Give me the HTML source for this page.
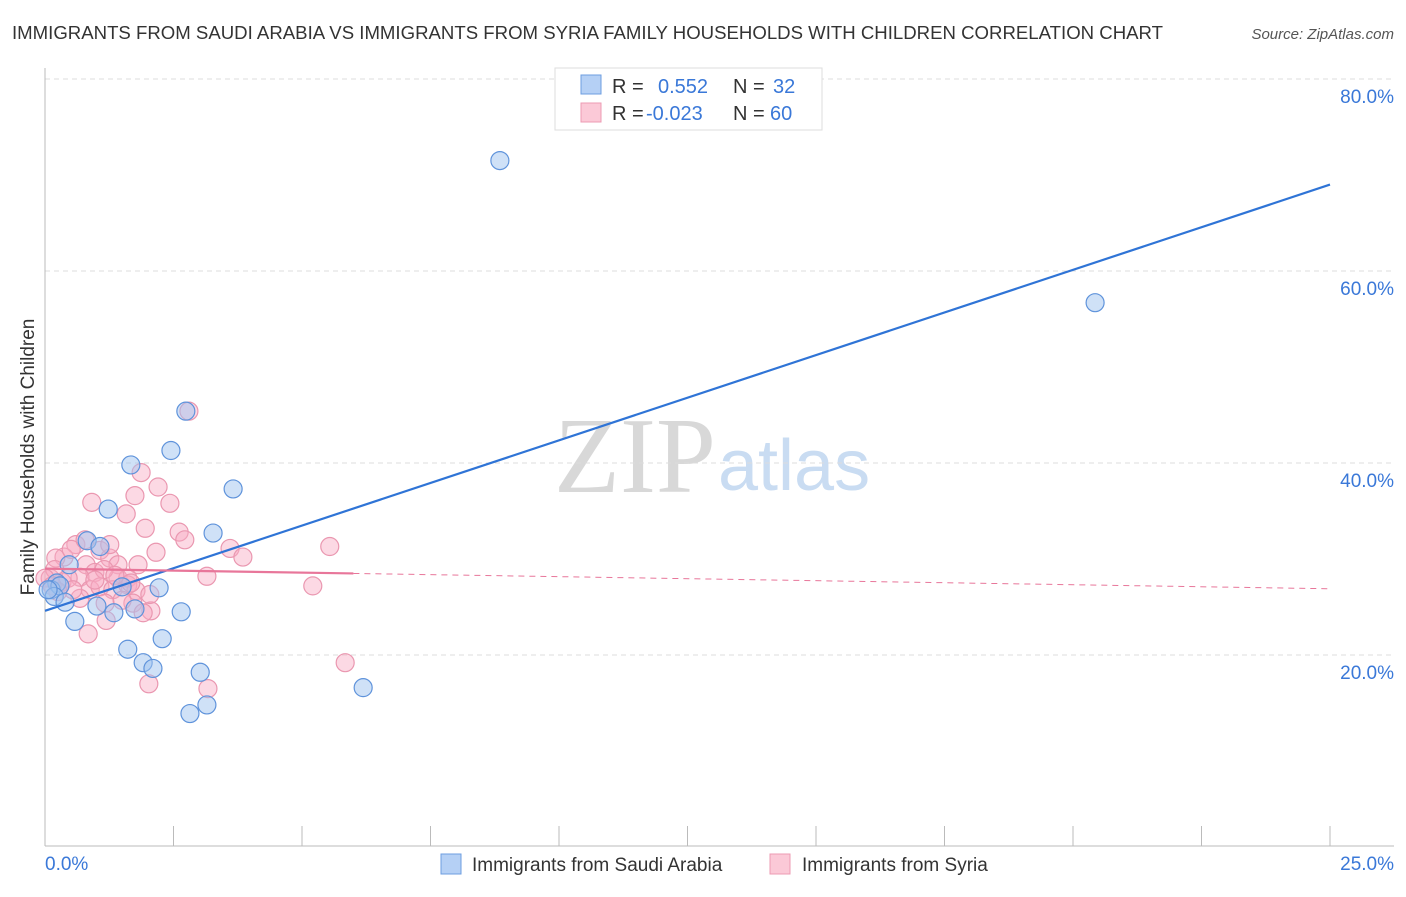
<!DOCTYPE html>
<html><head><meta charset="utf-8"><style>
body{margin:0;background:#fff;font-family:"Liberation Sans",sans-serif}
</style></head><body>
<svg id="c" width="1406" height="892" xmlns="http://www.w3.org/2000/svg">
<text x="12" y="39" font-size="18" fill="#333" textLength="1151" lengthAdjust="spacingAndGlyphs">IMMIGRANTS FROM SAUDI ARABIA VS IMMIGRANTS FROM SYRIA FAMILY HOUSEHOLDS WITH CHILDREN CORRELATION CHART</text>
<text x="1394" y="39" font-size="15" fill="#555" font-style="italic" text-anchor="end">Source: ZipAtlas.com</text>
<text x="716" y="492" font-size="108" fill="#d8d8d8" font-family="Liberation Serif,serif" text-anchor="end">ZIP</text>
<text x="718" y="490" font-size="72" fill="#c9dcf2">atlas</text>
<text transform="translate(34,457) rotate(-90)" font-size="19" fill="#333" text-anchor="middle">Family Households with Children</text>
<g id="grid"></g><g id="pts"></g><g id="lines"></g>
<g>
<rect x="555" y="68" width="267" height="62" fill="#fff" stroke="#ddd"/>
<rect x="581" y="75" width="20" height="19" fill="#b5d0f5" stroke="#6d9ee0"/>
<rect x="581" y="103" width="20" height="19" fill="#fbc9d7" stroke="#ec9bb3"/>
<text x="612" y="93" font-size="20" fill="#333">R = <tspan fill="#3a78d8" x="658">0.552</tspan><tspan x="733" fill="#333">N = </tspan><tspan fill="#3a78d8" x="773">32</tspan></text>
<text x="612" y="120" font-size="20" fill="#333">R = <tspan fill="#3a78d8" x="646">-0.023</tspan><tspan x="733" fill="#333">N = </tspan><tspan fill="#3a78d8" x="770">60</tspan></text>
</g>
<g>
<rect x="441" y="854" width="20" height="20" fill="#b5d0f5" stroke="#6d9ee0"/>
<text x="472" y="871" font-size="19" fill="#333">Immigrants from Saudi Arabia</text>
<rect x="770" y="854" width="20" height="20" fill="#fbc9d7" stroke="#ec9bb3"/>
<text x="802" y="871" font-size="19" fill="#333">Immigrants from Syria</text>
</g>
<text x="45" y="870" font-size="19" fill="#3a78d8">0.0%</text>
<text x="1394" y="870" font-size="19" fill="#3a78d8" text-anchor="end">25.0%</text>
</svg>
<script>
const yTicks=[20,40,60,80];
const yTickLabels=["20.0%","40.0%","60.0%","80.0%"];
const saudiX=[8.85,20.43,2.74,2.45,1.67,3.66,1.23,3.27,0.82,1.07,0.47,0.23,0.12,0.29,0.18,0.39,1.01,1.34,1.75,2.65,2.22,1.50,0.58,2.28,1.61,1.91,2.10,3.02,6.19,3.15,2.82,0.06];
const saudiY=[71.5,56.7,45.4,41.3,39.8,37.3,35.2,32.7,31.9,31.3,29.4,27.5,26.8,27.2,26.1,25.5,25.1,24.4,24.8,24.5,27.0,27.1,23.5,21.7,20.6,19.2,18.6,18.2,16.6,14.8,13.9,26.8];
const syriaX=[2.80,1.87,0.91,1.75,2.20,1.58,2.43,1.95,2.61,2.72,3.60,3.85,2.16,5.54,1.07,0.60,0.37,0.21,0.51,0.80,1.26,1.42,1.81,3.15,5.21,0.97,1.42,1.15,0.68,1.61,0.33,0.10,0.19,0.0,0.88,1.07,1.32,1.61,1.77,0.68,1.17,1.71,2.06,1.91,1.19,0.84,5.84,2.02,3.17,0.45,0.54,2.04,1.50,0.14,0.25,1.36,1.67,0.97,0.78,1.26];
const syriaY=[45.4,39.0,35.9,36.6,37.5,34.7,35.8,33.2,32.8,32.0,31.1,30.2,30.7,31.3,30.9,31.5,30.2,30.1,31.0,29.4,30.1,29.4,29.4,28.2,27.2,28.6,28.0,28.9,28.1,28.0,27.6,28.0,28.9,28.0,26.8,27.1,26.8,27.3,26.7,25.9,25.4,25.4,24.6,24.4,23.6,22.2,19.2,17.0,16.5,28.0,26.8,26.3,25.7,27.2,26.6,28.3,27.5,27.8,32.0,31.5];
const saudiTrend=[24.6,69.0];
const syriaTrend=[29.0,26.9];
const NS="http://www.w3.org/2000/svg";
const sx=v=>45+v/25*1285, sy=v=>847-v*9.6;
function mk(t,a,p){const e=document.createElementNS(NS,t);for(const k in a)e.setAttribute(k,a[k]);p.appendChild(e);return e;}
const g=document.getElementById('grid');
yTicks.forEach((t,i)=>{
 const l=mk('line',{x1:45,x2:1394,y1:sy(t),y2:sy(t),stroke:'#ddd','stroke-dasharray':'5,4'},g);
 
 
 const tx=mk('text',{x:1394,y:sy(t)+24,'font-size':19,fill:'#3a78d8','text-anchor':'end'},g);
 tx.textContent=yTickLabels[i];
 
 
});
const ax=mk('line',{x1:45,x2:45,y1:68,y2:846,stroke:'#bbb'},g);


const bx=mk('line',{x1:45,x2:1394,y1:846,y2:846,stroke:'#bbb'},g);


for(let i=0;i<=10;i++){
 const t=mk('line',{x1:sx(i*2.5),x2:sx(i*2.5),y1:826,y2:846,stroke:'#bbb'},g);
 
 
}
const P=document.getElementById('pts');
syriaX.forEach((x,i)=>{
 const c=mk('circle',{cx:sx(x),cy:sy(syriaY[i]),r:9,fill:'rgba(248,170,195,0.45)',stroke:'#ea97b0','stroke-width':1.2},P);
 
 
});
saudiX.forEach((x,i)=>{
 const c=mk('circle',{cx:sx(x),cy:sy(saudiY[i]),r:9,fill:'rgba(160,196,240,0.5)',stroke:'#5f93db','stroke-width':1.2},P);
 
 
});
const L=document.getElementById('lines');
const bl=mk('line',{x1:sx(0),y1:sy(saudiTrend[0]),x2:sx(25),y2:sy(saudiTrend[1]),stroke:'#2f74d6','stroke-width':2.2},L);


const xe=6.0, ye=syriaTrend[0]+(syriaTrend[1]-syriaTrend[0])*xe/25;
const pl=mk('line',{x1:sx(0),y1:sy(syriaTrend[0]),x2:sx(xe),y2:sy(ye),stroke:'#e8769a','stroke-width':2.2},L);


const pd=mk('line',{x1:sx(xe),y1:sy(ye),x2:sx(25),y2:sy(syriaTrend[1]),stroke:'#e8769a','stroke-width':1,'stroke-dasharray':'6,5'},L);


</script>
</body></html>
